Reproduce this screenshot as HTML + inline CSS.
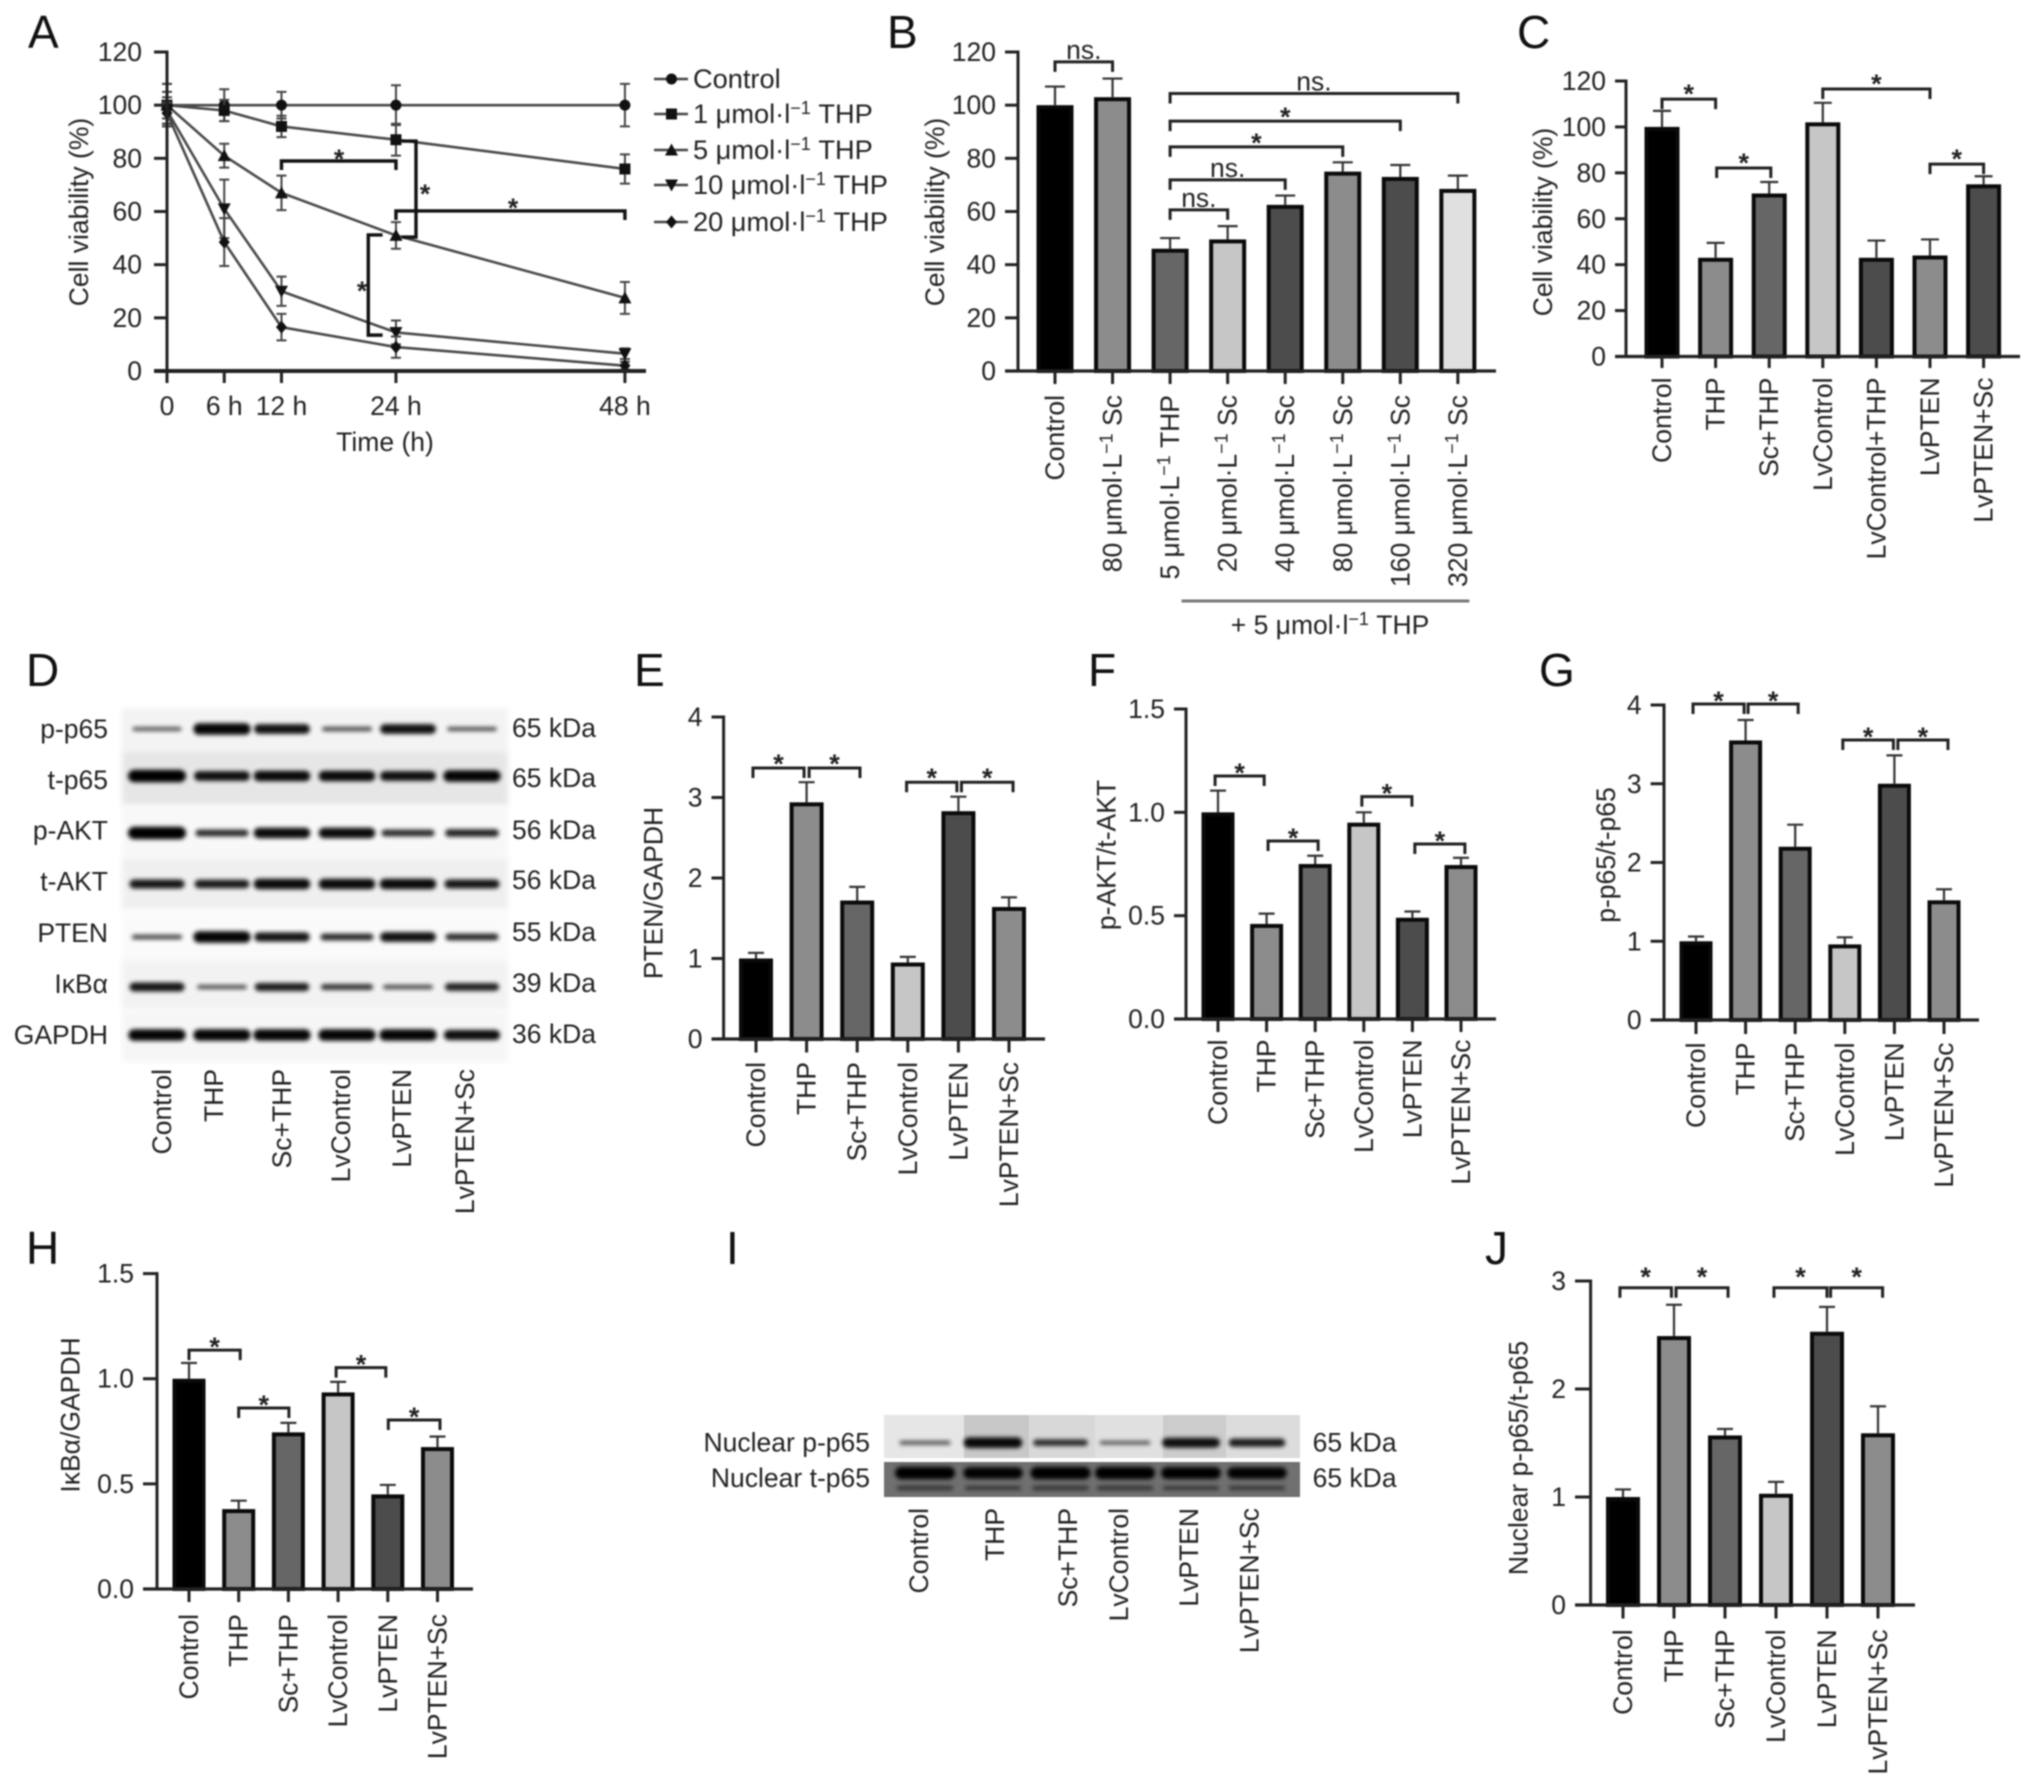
<!DOCTYPE html>
<html lang="en">
<head>
<meta charset="utf-8">
<title>Cell viability and western blot figure</title>
<style>
html,body{margin:0;padding:0;background:#fff;}
svg{display:block;filter:blur(0.8px);}
text{font-family:"Liberation Sans",sans-serif;font-size:26.5px;fill:#222;}
.panel-letter{font-size:46px;fill:#111;}
</style>
</head>
<body>
<svg id="figure" xmlns="http://www.w3.org/2000/svg" width="2032" height="1788" viewBox="0 0 2032 1788">
  <defs>
    <filter id="band-blur" x="-30%" y="-150%" width="160%" height="400%"><feGaussianBlur stdDeviation="2"/></filter>
    <filter id="bg-blur" x="-5%" y="-20%" width="110%" height="140%"><feGaussianBlur stdDeviation="3"/></filter>
  </defs>
  <rect x="0" y="0" width="2032" height="1788" fill="#fff"/>
  <text class="panel-letter" x="28" y="48">A</text>
  <text class="panel-letter" x="887" y="48">B</text>
  <text class="panel-letter" x="1517" y="48">C</text>
  <text class="panel-letter" x="26" y="686">D</text>
  <text class="panel-letter" x="634" y="686">E</text>
  <text class="panel-letter" x="1088" y="686">F</text>
  <text class="panel-letter" x="1539" y="686">G</text>
  <text class="panel-letter" x="26" y="1264">H</text>
  <text class="panel-letter" x="726" y="1264">I</text>
  <text class="panel-letter" x="1485" y="1264">J</text>
  <g id="panel-a"></g>
  <g id="panel-b"></g>
  <g id="panel-c"></g>
  <g id="panel-d"></g>
  <g id="panel-e"></g>
  <g id="panel-f"></g>
  <g id="panel-g"></g>
  <g id="panel-h"></g>
  <g id="panel-i"></g>
  <g id="panel-j"></g>
</svg>
<script>
/* ---------- Panel A data ---------- */
const timeHours = [0, 6, 12, 24, 48];
const timeTickLabels = ['0', '6 h', '12 h', '24 h', '48 h'];
const viabilityTicks = [0, 20, 40, 60, 80, 100, 120];
const viabilityTickLabels = ['0', '20', '40', '60', '80', '100', '120'];
const seriesControl = [100, 100, 100, 100, 100];
const seriesThp1 = [100, 98, 92, 87, 76];
const seriesThp5 = [100, 81, 67, 51, 27.5];
const seriesThp10 = [98, 61, 30, 14.5, 6.5];
const seriesThp20 = [97, 48.5, 16.5, 9, 2];
const errorControl = [8, 6, 5, 7.5, 8];
const errorThp1 = [8, 4, 4, 6, 5.5];
const errorThp5 = [5, 4.5, 6.5, 5, 6];
const errorThp10 = [5, 11, 5.5, 4.5, 2];
const errorThp20 = [4, 9, 5, 4, 1.5];
const legendLabels = ['Control', '1 μmol·l^−1 THP', '5 μmol·l^−1 THP', '10 μmol·l^−1 THP', '20 μmol·l^−1 THP'];

/* ---------- Bar panel data ---------- */
const categoriesB = ['Control', '80 μmol·L^−1 Sc', '5 μmol·L^−1 THP', '20 μmol·L^−1 Sc', '40 μmol·L^−1 Sc', '80 μmol·L^−1 Sc', '160 μmol·L^−1 Sc', '320 μmol·L^−1 Sc'];
const valuesB = [100, 103, 46, 49.5, 62.5, 75, 73, 68.5];
const errorTopsB = [107, 110, 50, 54.5, 66, 78.5, 77.5, 73.5];

const categoriesC = ['Control', 'THP', 'Sc+THP', 'LvControl', 'LvControl+THP', 'LvPTEN', 'LvPTEN+Sc'];
const valuesC = [100, 43, 71, 102, 43, 44, 75];
const errorTopsC = [107, 49.5, 76, 110.5, 50.5, 51, 78.5];

const categoriesSix = ['Control', 'THP', 'Sc+THP', 'LvControl', 'LvPTEN', 'LvPTEN+Sc'];

const valuesE = [1, 2.94, 1.72, 0.95, 2.83, 1.64];
const errorTopsE = [1.07, 3.19, 1.89, 1.02, 3.01, 1.76];
const ticksE = [0, 1, 2, 3, 4];
const tickLabelsE = ['0', '1', '2', '3', '4'];

const valuesF = [1, 0.46, 0.75, 0.95, 0.49, 0.745];
const errorTopsF = [1.105, 0.51, 0.79, 1, 0.52, 0.78];
const ticksF = [0, 0.5, 1, 1.5];
const tickLabelsF = ['0.0', '0.5', '1.0', '1.5'];

const valuesG = [1, 3.55, 2.2, 0.96, 3, 1.52];
const errorTopsG = [1.06, 3.81, 2.48, 1.05, 3.36, 1.66];
const ticksG = [0, 1, 2, 3, 4];
const tickLabelsG = ['0', '1', '2', '3', '4'];

const valuesH = [1, 0.38, 0.745, 0.935, 0.45, 0.675];
const errorTopsH = [1.075, 0.42, 0.79, 0.985, 0.495, 0.725];
const ticksH = [0, 0.5, 1, 1.5];
const tickLabelsH = ['0.0', '0.5', '1.0', '1.5'];

const valuesJ = [1, 2.49, 1.57, 1.03, 2.53, 1.59];
const errorTopsJ = [1.07, 2.78, 1.63, 1.14, 2.76, 1.84];
const ticksJ = [0, 1, 2, 3];
const tickLabelsJ = ['0', '1', '2', '3'];

/* significance brackets: category-from, category-to, value level, mark */
const bracketsB = [[0, 1, 116.3, 'ns.'], [2, 7, 104.4, 'ns.'], [2, 6, 94, '*'], [2, 5, 84.3, '*'], [2, 4, 71.9, 'ns.'], [2, 3, 60.6, 'ns.']];
const bracketsC = [[0, 1, 112.1, '*'], [1.02, 2.03, 82.1, '*'], [3, 5, 116.5, '*'], [5, 6, 83.8, '*']];
const bracketsE = [[-0.06, 0.95, 3.366, '*'], [1.05, 2.055, 3.366, '*'], [2.976, 3.97, 3.19, '*'], [4.06, 5.08, 3.19, '*']];
const bracketsF = [[-0.06, 0.95, 1.176, '*'], [1.03, 2.06, 0.861, '*'], [2.96, 3.99, 1.076, '*'], [4.05, 5.08, 0.847, '*']];
const bracketsG = [[-0.06, 0.97, 4.013, '*'], [1.05, 2.06, 4.013, '*'], [2.96, 3.98, 3.556, '*'], [4.07, 5.08, 3.556, '*']];
const bracketsH = [[0, 1.03, 1.136, '*'], [1, 2.01, 0.861, '*'], [2.96, 3.96, 1.053, '*'], [4.01, 5.05, 0.804, '*']];
const bracketsJ = [[-0.06, 0.95, 2.937, '*'], [1.04, 2.06, 2.937, '*'], [2.96, 4, 2.937, '*'], [4.07, 5.09, 2.937, '*']];

/* ---------- Blot data: band intensity per lane ---------- */
const blotDRowLabels = ['p-p65', 't-p65', 'p-AKT', 't-AKT', 'PTEN', 'IκBα', 'GAPDH'];
const blotDWeights = ['65 kDa', '65 kDa', '56 kDa', '56 kDa', '55 kDa', '39 kDa', '36 kDa'];
const intensityPp65 = [0.35, 0.95, 0.85, 0.42, 0.85, 0.38];
const intensityTp65 = [1, 0.85, 0.9, 0.9, 0.85, 0.95];
const intensityPakt = [1, 0.65, 0.9, 0.9, 0.65, 0.7];
const intensityTakt = [0.8, 0.78, 0.9, 0.9, 0.9, 0.8];
const intensityPten = [0.45, 0.95, 0.82, 0.65, 0.85, 0.65];
const intensityIkba = [0.8, 0.4, 0.75, 0.58, 0.42, 0.72];
const intensityGapdh = [0.95, 0.95, 0.95, 0.95, 0.95, 0.88];
const blotIRowLabels = ['Nuclear p-p65', 'Nuclear t-p65'];
const blotIWeights = ['65 kDa', '65 kDa'];
const intensityNuclearP = [0.35, 0.9, 0.62, 0.32, 0.85, 0.75];
const intensityNuclearT = [1, 0.95, 1, 1, 0.98, 0.95];

/* ---------- Layout (pixels and styles, not data) ---------- */
const barFills = ['#000000', '#8c8c8c', '#666666', '#c6c6c6', '#4c4c4c', '#8c8c8c'];
const layoutA = {x0: 167, pxPerHour: 9.54, y0: 371, yTop: 52, max: 120, xEnd: 646, tickLeft: 154, tickBottom: 383};
const layoutB = {x0: 1055, step: 57.55, barW: 33, y0: 371, yTop: 52, max: 120, axisX: 1018, tickLeft: 1005, xEnd: 1496, tickBottom: 384, labelEnd: 395, titleX: 935, titleY: 212, starGap: 10, capHalf: 10, fills: ['#000000', '#8c8c8c', '#666666', '#c6c6c6', '#4c4c4c', '#8c8c8c', '#4c4c4c', '#e0e0e0']};
const layoutC = {x0: 1662, step: 53.6, barW: 31, y0: 356.5, yTop: 81, max: 120, axisX: 1626, tickLeft: 1615, xEnd: 2020, tickBottom: 368, labelEnd: 377.5, titleX: 1543, titleY: 222, starGap: 11, capHalf: 9, fills: ['#000000', '#8c8c8c', '#666666', '#c6c6c6', '#4c4c4c', '#8c8c8c', '#4c4c4c']};
const layoutE = {x0: 756, step: 50.6, barW: 30, y0: 1039, yTop: 717, max: 4, axisX: 723.6, tickLeft: 711.5, xEnd: 1045, tickBottom: 1052.5, labelEnd: 1062, titleX: 653.5, titleY: 893, starGap: 10, capHalf: 8, fills: barFills};
const layoutF = {x0: 1218, step: 48.6, barW: 29, y0: 1019, yTop: 709, max: 1.5, axisX: 1186, tickLeft: 1174, xEnd: 1496, tickBottom: 1032, labelEnd: 1039.5, titleX: 1106.6, titleY: 855, starGap: 9, capHalf: 8, fills: barFills};
const layoutG = {x0: 1696, step: 49.6, barW: 29, y0: 1020, yTop: 705, max: 4, axisX: 1664, tickLeft: 1650.6, xEnd: 1979, tickBottom: 1034, labelEnd: 1042.5, titleX: 1606, titleY: 855, starGap: 9, capHalf: 8, fills: barFills};
const layoutH = {x0: 189, step: 49.7, barW: 29, y0: 1589, yTop: 1273.6, max: 1.5, axisX: 157, tickLeft: 143, xEnd: 473, tickBottom: 1602, labelEnd: 1614, titleX: 70.5, titleY: 1415, starGap: 9, capHalf: 8, fills: barFills};
const layoutJ = {x0: 1623, step: 51, barW: 30, y0: 1605, yTop: 1281, max: 3, axisX: 1590.6, tickLeft: 1575, xEnd: 1915, tickBottom: 1618.5, labelEnd: 1629.4, titleX: 1518.5, titleY: 1458, starGap: 17, capHalf: 8, fills: barFills};
const blotDLayout = {left: 122, right: 508, rowTops: [708, 751, 806, 858, 910, 960, 1010], rowBottoms: [751, 806, 858, 910, 960, 1010, 1062], rowFill: ['#f3f3f3', '#e6e6e6', '#f8f8f8', '#efefef', '#fafafa', '#f2f2f2', '#f6f6f6'], bandY: [729, 776, 833, 884, 937, 987, 1035], labelY: [729, 780, 830.5, 881.6, 933, 984, 1035], weightY: [728, 778, 830, 880, 932, 983, 1034], laneX: [157, 222, 282, 347, 408, 472], labelX: [162, 214, 282, 341, 402, 465], labelEnd: 1069, rowLabelX: 108, weightX: 512};
const blotILayout = {laneX: [925, 993, 1060.5, 1125, 1191, 1257], labelX: [919, 995, 1068, 1119, 1189, 1249.5], labelEnd: 1508, rowLabelX: 870, weightX: 1312.6, rowY: [1442.7, 1478], laneLeft: [884, 964, 1029, 1095, 1163, 1226], laneRight: [964, 1029, 1095, 1163, 1226, 1300], laneFill: ['#e6e6e6', '#c8c8c8', '#d8d8d8', '#e0e0e0', '#cccccc', '#dcdcdc']};

/* ---------- Helpers ---------- */
const SVGNS = 'http://www.w3.org/2000/svg';
function el(tag, attrs, parent) {
  const node = document.createElementNS(SVGNS, tag);
  for (const k in attrs) node.setAttribute(k, attrs[k]);
  parent.appendChild(node);
  return node;
}
function addText(parent, str, attrs) {
  const t = el('text', attrs, parent);
  const parts = str.split('^');
  if (parts.length === 1) {
    t.textContent = str;
    return t;
  }
  const head = document.createElementNS(SVGNS, 'tspan');
  head.textContent = parts[0];
  t.appendChild(head);
  const rest = parts[1];
  const sup = rest.slice(0, 2);
  const tail = rest.slice(2);
  const supSpan = document.createElementNS(SVGNS, 'tspan');
  supSpan.setAttribute('dy', '-9');
  supSpan.setAttribute('style', 'font-size:18px');
  supSpan.textContent = sup;
  t.appendChild(supSpan);
  const tailSpan = document.createElementNS(SVGNS, 'tspan');
  tailSpan.setAttribute('dy', '9');
  tailSpan.textContent = '\u00A0' + tail.trim();
  t.appendChild(tailSpan);
  return t;
}
function rotatedLabel(parent, str, x, y, anchor) {
  return addText(parent, str, {x: x + 9, y: y, 'text-anchor': anchor, transform: 'rotate(-90 ' + (x + 9) + ' ' + y + ')'});
}
function line(parent, x1, y1, x2, y2, w, color) {
  return el('line', {x1: x1, y1: y1, x2: x2, y2: y2, stroke: color, 'stroke-width': w}, parent);
}

/* ---------- Bar panels ---------- */
function drawBarPanel(id, L, categories, values, errorTops, ticks, tickLabels, brackets, title) {
  const g = document.getElementById(id);
  const xScale = i => L.x0 + i * L.step;
  const yScale = v => L.y0 - (v / L.max) * (L.y0 - L.yTop);

  values.forEach(function (v, i) {
    const cx = xScale(i);
    const err = line(g, cx, yScale(v), cx, yScale(errorTops[i]), 2.2, '#333');
    
    
    const cap = line(g, cx - L.capHalf, yScale(errorTops[i]), cx + L.capHalf, yScale(errorTops[i]), 2.2, '#333');
    
    
    const bar = el('rect', {x: cx - L.barW / 2, y: yScale(v) + 2, width: L.barW, height: L.y0 - yScale(v) - 2, fill: L.fills[i], stroke: '#0a0a0a', 'stroke-width': 4}, g);
    
    
    const tick = line(g, cx, L.y0, cx, L.tickBottom, 3, '#222');
    
    
    const lab = rotatedLabel(g, categories[i], cx, L.labelEnd, 'end');
    
    
  });

  const yAxis = line(g, L.axisX, L.yTop - 1.5, L.axisX, L.y0 + 1.5, 3, '#222');
  
  
  const xAxis = line(g, L.tickLeft, L.y0, L.xEnd, L.y0, 3.2, '#222');
  
  

  ticks.forEach(function (v, i) {
    const tick = line(g, L.tickLeft, yScale(v), L.axisX, yScale(v), 3, '#222');
    
    
    const lab = addText(g, tickLabels[i], {x: L.tickLeft - 9, y: yScale(v) + 9, 'text-anchor': 'end'});
    
    
  });

  const yTitle = rotatedLabel(g, title, L.titleX, L.titleY, 'middle');
  
  

  brackets.forEach(function (b) {
    const x1 = xScale(b[0]);
    const x2 = xScale(b[1]);
    const yb = yScale(b[2]);
    const path = el('path', {d: 'M' + x1 + ' ' + (yb + 10) + 'V' + yb + 'H' + x2 + 'V' + (yb + 10), fill: 'none', stroke: '#222', 'stroke-width': 3}, g);
    
    
    const mid = (x1 + x2) / 2;
    const mark = addText(g, b[3], {x: mid, y: b[3] === '*' ? yb - L.starGap + 15 : yb - 3, 'text-anchor': 'middle', style: b[3] === '*' ? 'font-size:27px;font-weight:bold' : ''});
    
    
  });
}

drawBarPanel('panel-b', layoutB, categoriesB, valuesB, errorTopsB, viabilityTicks, viabilityTickLabels, bracketsB, 'Cell viability (%)');
drawBarPanel('panel-c', layoutC, categoriesC, valuesC, errorTopsC, viabilityTicks, viabilityTickLabels, bracketsC, 'Cell viability (%)');
drawBarPanel('panel-e', layoutE, categoriesSix, valuesE, errorTopsE, ticksE, tickLabelsE, bracketsE, 'PTEN/GAPDH');
drawBarPanel('panel-f', layoutF, categoriesSix, valuesF, errorTopsF, ticksF, tickLabelsF, bracketsF, 'p-AKT/t-AKT');
drawBarPanel('panel-g', layoutG, categoriesSix, valuesG, errorTopsG, ticksG, tickLabelsG, bracketsG, 'p-p65/t-p65');
drawBarPanel('panel-h', layoutH, categoriesSix, valuesH, errorTopsH, ticksH, tickLabelsH, bracketsH, 'IκBα/GAPDH');
drawBarPanel('panel-j', layoutJ, categoriesSix, valuesJ, errorTopsJ, ticksJ, tickLabelsJ, bracketsJ, 'Nuclear p-p65/t-p65');

/* Panel B extras */
(function () {
  const g = document.getElementById('panel-b');
  const x = i => layoutB.x0 + i * layoutB.step;
  const rule = line(g, x(2.2), 601, x(7.2), 601, 3, '#777');
  
  
  const lab = addText(g, '+ 5 μmol·l^−1 THP', {x: 1330, y: 634, 'text-anchor': 'middle'});
  
  
})();

/* ---------- Panel A ---------- */
function drawMarker(parent, kind, cx, cy) {
  const r = 5.5;
  let d;
  if (kind === 'circle') d = 'M' + (cx - r) + ' ' + cy + 'a' + r + ' ' + r + ' 0 1 0 ' + (2 * r) + ' 0a' + r + ' ' + r + ' 0 1 0 ' + (-2 * r) + ' 0Z';
  if (kind === 'square') d = 'M' + (cx - r) + ' ' + (cy - r) + 'h' + (2 * r) + 'v' + (2 * r) + 'h' + (-2 * r) + 'Z';
  if (kind === 'up') d = 'M' + cx + ' ' + (cy - r - 1) + 'l' + (r + 1) + ' ' + (2 * r + 1) + 'h' + (-2 * r - 2) + 'Z';
  if (kind === 'down') d = 'M' + cx + ' ' + (cy + r + 1) + 'l' + (r + 1) + ' ' + (-2 * r - 1) + 'h' + (-2 * r - 2) + 'Z';
  if (kind === 'diamond') d = 'M' + cx + ' ' + (cy - r - 1) + 'l' + (r) + ' ' + (r + 1) + 'l' + (-r) + ' ' + (r + 1) + 'l' + (-r) + ' ' + (-r - 1) + 'Z';
  return el('path', {d: d, fill: '#111'}, parent);
}
(function () {
  const g = document.getElementById('panel-a');
  const L = layoutA;
  const xScale = h => L.x0 + h * L.pxPerHour;
  const yScale = v => L.y0 - (v / L.max) * (L.y0 - L.yTop);
  const allSeries = [seriesControl, seriesThp1, seriesThp5, seriesThp10, seriesThp20];
  const allErrors = [errorControl, errorThp1, errorThp5, errorThp10, errorThp20];
  const kinds = ['circle', 'square', 'up', 'down', 'diamond'];

  allSeries.forEach(function (series, s) {
    const pts = series.map((v, i) => xScale(timeHours[i]) + ',' + yScale(v)).join(' ');
    const poly = el('polyline', {points: pts, fill: 'none', stroke: '#4a4a4a', 'stroke-width': 2.6}, g);
    
    
    series.forEach(function (v, i) {
      const cx = xScale(timeHours[i]);
      const e = allErrors[s][i];
      const bar = el('path', {d: 'M' + (cx - 5) + ' ' + yScale(v + e) + 'h10M' + cx + ' ' + yScale(v + e) + 'V' + yScale(v - e) + 'M' + (cx - 5) + ' ' + yScale(v - e) + 'h10', fill: 'none', stroke: '#444', 'stroke-width': 2}, g);
      
      
      const m = drawMarker(g, kinds[s], cx, yScale(v));
      
      
    });
  });

  const yAxis = line(g, L.x0, L.yTop - 1.5, L.x0, L.tickBottom, 3, '#222');
  
  
  const xAxis = line(g, L.tickLeft, L.y0, L.xEnd, L.y0, 4, '#222');
  
  

  viabilityTicks.forEach(function (v, i) {
    const t = line(g, L.tickLeft, yScale(v), L.x0, yScale(v), 3, '#222');
    
    
    const lab = addText(g, viabilityTickLabels[i], {x: L.tickLeft - 12, y: yScale(v) + 9, 'text-anchor': 'end'});
    
    
  });
  timeHours.forEach(function (h, i) {
    const t = line(g, xScale(h), L.y0, xScale(h), L.tickBottom, 3, '#222');
    
    
    const lab = addText(g, timeTickLabels[i], {x: xScale(h), y: 415, 'text-anchor': 'middle'});
    
    
  });

  const xTitle = addText(g, 'Time (h)', {x: 385, y: 451, 'text-anchor': 'middle'});
  
  
  const yTitle = rotatedLabel(g, 'Cell viability (%)', 79, 212, 'middle');
  
  

  /* brackets in hours / value coordinates */
  const b1 = el('path', {d: 'M' + xScale(12) + ' ' + yScale(75.6) + 'V' + yScale(79) + 'H' + xScale(24) + 'V' + yScale(75.6), fill: 'none', stroke: '#111', 'stroke-width': 3.4}, g);
  
  
  const b2 = el('path', {d: 'M' + xScale(24) + ' ' + yScale(56.8) + 'V' + yScale(60.2) + 'H' + xScale(48) + 'V' + yScale(56.8), fill: 'none', stroke: '#111', 'stroke-width': 3.4}, g);
  
  
  const b3 = el('path', {d: 'M' + xScale(24.6) + ' ' + yScale(86.5) + 'H' + xScale(26.1) + 'V' + yScale(50.4) + 'H' + xScale(24.6), fill: 'none', stroke: '#111', 'stroke-width': 3.4}, g);
  
  
  const b4 = el('path', {d: 'M' + xScale(22.6) + ' ' + yScale(51.2) + 'H' + xScale(21.1) + 'V' + yScale(13.5) + 'H' + xScale(22.6), fill: 'none', stroke: '#111', 'stroke-width': 3.4}, g);
  
  
  const s1 = addText(g, '*', {x: 339, y: 168, 'text-anchor': 'middle', style: 'font-weight:bold'});
  
  
  const s2 = addText(g, '*', {x: 425, y: 203, 'text-anchor': 'middle', style: 'font-weight:bold'});
  
  
  const s3 = addText(g, '*', {x: 513, y: 217, 'text-anchor': 'middle', style: 'font-weight:bold'});
  
  
  const s4 = addText(g, '*', {x: 362, y: 300, 'text-anchor': 'middle', style: 'font-weight:bold'});
  
  

  /* legend */
  const legendY = [79, 114, 150, 185, 222];
  legendLabels.forEach(function (label, i) {
    const row = el('g', {}, g);
    
    
    const ln = line(row, 654, legendY[i], 688, legendY[i], 2.6, '#444');
    
    
    const m = drawMarker(row, kinds[i], 671.5, legendY[i]);
    
    
    const t = addText(row, label, {x: 693, y: legendY[i] + 9, style: 'font-size:27.2px'});
    
    
  });
})();

/* ---------- Panel D blot ---------- */
function drawBand(parent, cx, cy, intensity, baseWidth) {
  const w = baseWidth + 14 * intensity;
  const h = 2.5 + 10 * intensity * intensity;
  return el('rect', {x: cx - w / 2, y: cy - h / 2, width: w, height: h, rx: h / 2, fill: '#000', opacity: 0.55 + 0.45 * intensity, filter: 'url(#band-blur)'}, parent);
}
(function () {
  const g = document.getElementById('panel-d');
  const L = blotDLayout;
  const rows = [intensityPp65, intensityTp65, intensityPakt, intensityTakt, intensityPten, intensityIkba, intensityGapdh];
  rows.forEach(function (row, r) {
    const bg = el('rect', {x: L.left, y: L.rowTops[r], width: L.right - L.left, height: L.rowBottoms[r] - L.rowTops[r], fill: L.rowFill[r], filter: 'url(#bg-blur)'}, g);
    
    
  });
  rows.forEach(function (row, r) {
    row.forEach(function (value, i) {
      const band = drawBand(g, L.laneX[i], L.bandY[r], value, 44);
      
      
    });
    const lab = addText(g, blotDRowLabels[r], {x: L.rowLabelX, y: L.labelY[r] + 9, 'text-anchor': 'end'});
    
    
    const kda = addText(g, blotDWeights[r], {x: L.weightX, y: L.weightY[r] + 9});
    
    
  });
  categoriesSix.forEach(function (c, i) {
    const lab = rotatedLabel(g, c, L.labelX[i], L.labelEnd, 'end');
    
    
  });
})();

/* ---------- Panel I blot ---------- */
(function () {
  const g = document.getElementById('panel-i');
  const L = blotILayout;
  L.laneX.forEach(function (cx, i) {
    const bg = el('rect', {x: L.laneLeft[i], y: 1415, width: L.laneRight[i] - L.laneLeft[i], height: 43, fill: L.laneFill[i]}, g);
    
    
  });
  const dark = el('rect', {x: 884, y: 1462, width: 416, height: 35, fill: '#707070'}, g);
  
  
  intensityNuclearP.forEach(function (value, i) {
    const band = drawBand(g, L.laneX[i], 1442.7, value, 46);
    
    
  });
  intensityNuclearT.forEach(function (value, i) {
    const band = drawBand(g, L.laneX[i], 1473, value, 46);
    
    
    const lower = drawBand(g, L.laneX[i], 1488, value * 0.3, 52);
    
    
  });
  blotIRowLabels.forEach(function (label, r) {
    const lab = addText(g, label, {x: L.rowLabelX, y: L.rowY[r] + 9, 'text-anchor': 'end'});
    
    
    const kda = addText(g, blotIWeights[r], {x: L.weightX, y: L.rowY[r] + 9});
    
    
  });
  categoriesSix.forEach(function (c, i) {
    const lab = rotatedLabel(g, c, L.labelX[i], L.labelEnd, 'end');
    
    
  });
})();
</script>
</body>
</html>
